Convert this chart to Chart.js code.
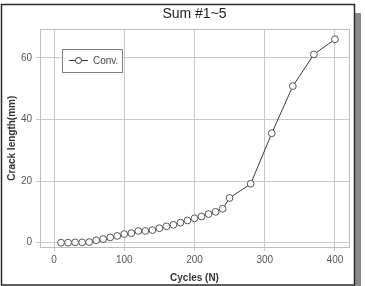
<!DOCTYPE html>
<html>
<head>
<meta charset="utf-8">
<script src="https://cdn.jsdelivr.net/npm/chart.js@4.4.0/dist/chart.umd.min.js"></script>
<style>
  body { margin: 0; background: #ffffff; }
</style>
</head>
<body>
<canvas id="crackChart" width="365" height="286"></canvas>
<script>
// data
const cycles = [10, 20, 30, 40, 50, 60, 70, 80, 90, 100, 110, 120, 130, 140, 150, 160, 170, 180, 190, 200,
  210, 220, 230, 240, 250, 280, 310, 340, 370, 400];
const crackLength = [0, 0, 0.1, 0.1, 0.2, 0.8, 1.2, 1.7, 2.2, 2.8, 3.1, 3.8, 3.8, 4.1, 4.7, 5.3, 5.8, 6.5, 7.2, 7.9,
  8.5, 9.3, 10.0, 11.0, 14.5, 19.1, 35.5, 50.8, 61.1, 66.0];
const seriesName = "Conv.";
const chartTitle = "Sum #1~5";
const xTitle = "Cycles (N)";
const yTitle = "Crack length(mm)";

const gridColor = "#c9c9c9";
const lineColor = "#3a3a3a";
const fontFamily = "'Liberation Sans', Arial, sans-serif";

// outer frame with its grey shadow
const framePlugin = {
  id: "framePlugin",
  beforeDraw(chart) {
    const ctx = chart.ctx;
    ctx.save();
    ctx.fillStyle = "#8a8a8a";
    ctx.fillRect(355, 13, 6, 273);
    ctx.strokeStyle = "#2a2a2a";
    ctx.lineWidth = 1.5;
    ctx.strokeRect(1.5, 4.5, 353, 280.5);
    ctx.restore();
  }
};

// box round the plot + legend inside it
const boxPlugin = {
  id: "boxPlugin",
  afterDatasetsDraw(chart) {
    const ctx = chart.ctx;
    const a = chart.chartArea;
    ctx.save();
    ctx.strokeStyle = "#bdbdbd";
    ctx.lineWidth = 1;
    ctx.strokeRect(Math.round(a.left) + 0.5, Math.round(a.top) + 0.5,
      Math.round(a.right - a.left), Math.round(a.bottom - a.top));

    // legend
    const lx = 62, ly = 49, lw = 60, lh = 23;
    ctx.fillStyle = "#fff";
    ctx.fillRect(lx, ly, lw, lh);
    ctx.strokeStyle = "#808080";
    ctx.strokeRect(lx + 0.5, ly + 0.5, lw, lh);
    const cy = ly + 11.5;
    ctx.strokeStyle = lineColor;
    ctx.beginPath();
    ctx.moveTo(lx + 7, cy);
    ctx.lineTo(lx + 26, cy);
    ctx.stroke();
    ctx.beginPath();
    ctx.arc(lx + 16.5, cy, 3, 0, Math.PI * 2);
    ctx.fillStyle = "#fff";
    ctx.fill();
    ctx.stroke();
    ctx.fillStyle = "#444";
    ctx.font = "10px " + fontFamily;
    ctx.textBaseline = "middle";
    ctx.fillText(seriesName, lx + 31, cy + 0.5);
    ctx.restore();
  }
};

const crackChart = new Chart(document.getElementById("crackChart"), {
  type: "line",
  data: {
    datasets: [{
      label: seriesName,
      data: cycles.map((c, i) => ({ x: c, y: crackLength[i] })),
      borderColor: lineColor,
      borderWidth: 1,
      pointRadius: 3.4,
      pointBackgroundColor: "#ffffff",
      pointBorderColor: "#555",
      pointBorderWidth: 1,
      tension: 0,
    }],
  },
  options: {
    responsive: false,
    animation: false,
    layout: { padding: { left: 0, right: 16, top: 0, bottom: 0 } },
    plugins: {
      legend: { display: false },
      tooltip: { enabled: false },
      title: {
        display: true,
        text: chartTitle,
        fullSize: false,
        color: "#222",
        font: { family: fontFamily, size: 14, weight: "normal", lineHeight: 1.1 },
        padding: { top: 6, bottom: 8 },
      },
    },
    scales: {
      x: {
        type: "linear",
        min: -20,
        max: 420,
        afterFit(scale) { scale.height = 39; },
        ticks: {
          stepSize: 100,
          includeBounds: false,
          color: "#555",
          padding: 3,
          font: { family: fontFamily, size: 10 },
        },
        grid: { color: gridColor, tickLength: 4, tickColor: gridColor },
        border: { color: gridColor },
        title: {
          display: true,
          text: xTitle,
          color: "#333",
          font: { family: fontFamily, size: 10, weight: "bold" },
          padding: { top: 2, bottom: 2 },
        },
      },
      y: {
        type: "linear",
        min: -1.4,
        max: 69.2,
        afterFit(scale) { scale.width = 40; },
        ticks: {
          stepSize: 20,
          includeBounds: false,
          color: "#555",
          padding: 4,
          font: { family: fontFamily, size: 10 },
        },
        grid: { color: gridColor, tickLength: 4, tickColor: gridColor },
        border: { color: gridColor },
        title: {
          display: true,
          text: yTitle,
          color: "#333",
          font: { family: fontFamily, size: 10, weight: "bold" },
          padding: { top: 6, bottom: 0 },
        },
      },
    },
  },
  plugins: [framePlugin, boxPlugin],
});
</script>
</body>
</html>
